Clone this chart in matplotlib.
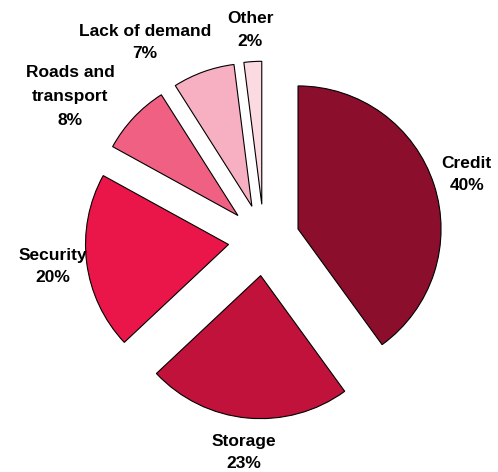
import matplotlib
matplotlib.use("Agg")
import matplotlib.pyplot as plt

categories = ["Credit", "Storage", "Security", "Roads and\ntransport", "Lack of demand", "Other"]
values = [40, 23, 20, 8, 7, 2]
colors = ["#8C0E2D", "#C0123A", "#EA1649", "#F06082", "#F7B0C1", "#FBDAE1"]

plt.rcParams['font.family'] = ['Liberation Sans', 'DejaVu Sans']

fig = plt.figure(figsize=(4.98, 4.72), dpi=100)
ax = fig.add_axes([0, 0, 1, 1])

labels = [f"{c}\n{v}%" for c, v in zip(categories, values)]
wedges, texts = ax.pie(values, labels=labels, colors=colors, explode=[0.25] * len(values),
                       startangle=90, counterclock=False, radius=1.0, labeldistance=1.24,
                       wedgeprops=dict(edgecolor="black", linewidth=0.8),
                       textprops=dict(fontsize=12.5, fontweight="bold", color="black",
                                      ha="center", va="center", linespacing=1.6))
for t in texts:
    t.set_ha("center")
    t.set_va("center")

# manual label adjustments for the small slices
label_pos = {3: (-1.357, 1.0), 4: (-0.832, 1.381), 5: (-0.098, 1.469)}
for i, p in label_pos.items():
    texts[i].set_position(p)
texts[3].set_linespacing(1.75)

ax.set_xlim(-1.846, 1.636)
ax.set_ylim(-1.622, 1.678)
ax.set_aspect("equal")
ax.axis("off")

fig.savefig("out.png", dpi=100)
